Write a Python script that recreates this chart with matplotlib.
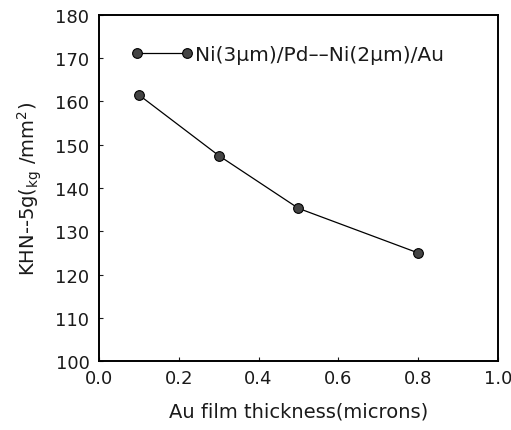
import matplotlib
matplotlib.use("Agg")
import matplotlib.pyplot as plt

# Knoop hardness vs Au film thickness
thickness = [0.1, 0.3, 0.5, 0.8]
hardness = [161.5, 147.5, 135.3, 125.0]
series_label = "Ni(3μm)/Pd\u2013\u2013Ni(2μm)/Au"

x_ticks = [0.0, 0.2, 0.4, 0.6, 0.8, 1.0]
y_ticks = [100, 110, 120, 130, 140, 150, 160, 170, 180]

plt.rcParams['font.family'] = ['DejaVu Sans']

fig = plt.figure(figsize=(5.11, 4.31), dpi=100)
ax = fig.add_axes([0.194, 0.16, 0.78, 0.803])

ax.plot(thickness, hardness, color='black', linewidth=0.9,
        marker='o', markersize=7, markerfacecolor='#444444',
        markeredgecolor='black', markeredgewidth=0.8, label=series_label)

ax.set_xlim(0.0, 1.0)
ax.set_ylim(100, 180)
ax.set_xticks(x_ticks)
ax.set_yticks(y_ticks)
ax.set_xticklabels([f"{t:.1f}" for t in x_ticks])
ax.tick_params(direction='in', length=3, width=0.8, labelsize=13,
               colors='#1a1a1a')
ax.tick_params(axis='x', pad=6)
ax.tick_params(axis='y', pad=7)

for side in ax.spines.values():
    side.set_linewidth(1.4)

ax.set_xlabel("Au film thickness(microns)", fontsize=14, labelpad=10,
              color='#1a1a1a')
ax.set_ylabel("KHN--5g($_{\\rm kg}$ /mm$^2$)", fontsize=14, labelpad=8,
              color='#1a1a1a')

leg = ax.legend(loc='upper left', bbox_to_anchor=(0.06, 0.935),
                frameon=False, numpoints=2, handlelength=3.1,
                handletextpad=0.05, fontsize=14.5, borderaxespad=0)
for txt in leg.get_texts():
    txt.set_color('#1a1a1a')

fig.savefig("out.png", dpi=100)
